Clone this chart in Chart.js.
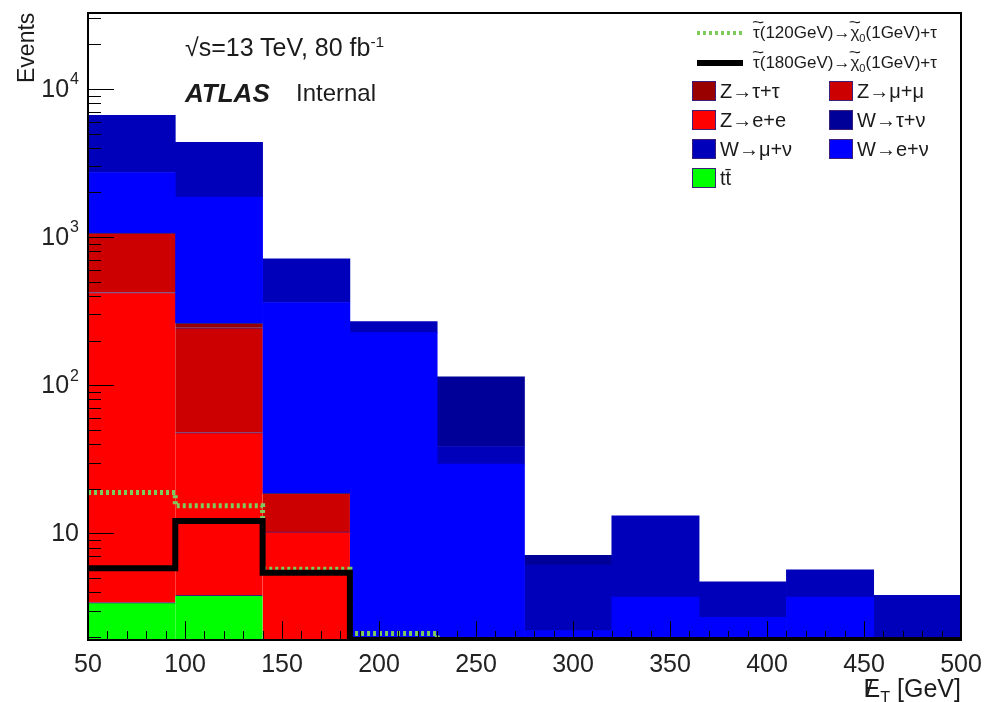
<!DOCTYPE html>
<html lang="en">
<head>
<meta charset="utf-8">
<title>Missing ET distribution</title>
<script src="https://cdn.jsdelivr.net/npm/chart.js@4.4.1/dist/chart.umd.min.js"></script>
<style>
  html, body { margin: 0; padding: 0; background: #fff; }
  #page { position: relative; width: 988px; height: 702px; overflow: hidden;
          font-family: "Liberation Sans", Arial, Helvetica, sans-serif; color: #1b1b1b; }
  #EtGraph { position: absolute; left: 0; top: 0; }
  .lbl { position: absolute; white-space: nowrap; line-height: 1; }
  #yTitle { left: 15px; top: 83px; font-size: 23px; transform-origin: left top; transform: rotate(-90deg); }
  #xTitle { right: 27px; top: 676px; font-size: 25px; }
  #energy { left: 185px; top: 35px; font-size: 25px; }
  #atlas { left: 185px; top: 80px; font-size: 26px; font-weight: bold; font-style: italic; }
  #internal { left: 296px; top: 81px; font-size: 24px; }
  sup { font-size: 62%; vertical-align: 0.6em; line-height: 0; }
  sub { font-size: 65%; vertical-align: -0.35em; line-height: 0; }
  .tl { position: relative; display: inline-block; }
  .tl::before { content: '~'; position: absolute; left: 0; right: 0; top: -0.6em;
                text-align: center; font-size: 0.95em; transform: scaleX(1.3); }
  .sl { position: relative; display: inline-block; }
  .sl::after { content: '/'; position: absolute; left: 0.12em; top: 0.02em; font-size: 0.95em; }
  .sw { position: absolute; width: 22px; height: 18px; border: 1.5px solid #3c1f78; }
  .line-sw { position: absolute; }
  .lt { position: absolute; line-height: 1; white-space: nowrap; }
</style>
</head>
<body>
<div id="page">
  <canvas id="EtGraph" width="988" height="702"></canvas>
  <div class="lbl" id="yTitle">Events</div>
  <div class="lbl" id="xTitle"><span class="sl">E</span><sub>T</sub> [GeV]</div>
  <div class="lbl" id="energy">&#x221A;s=13 TeV, 80 fb<sup>-1</sup></div>
  <div class="lbl" id="atlas">ATLAS</div>
  <div class="lbl" id="internal">Internal</div>
  <div id="legend"></div>
</div>
<script>
// bin edges of the missing ET histogram (GeV)
const binEdges = [50, 95, 140, 185, 230, 275, 320, 365, 410, 455, 500];

const xTickValues = [50, 100, 150, 200, 250, 300, 350, 400, 450, 500];
const yTickValues = [10, 100, 1000, 10000];
const yTickLabels = ['10', '10^2', '10^3', '10^4'];

// background yields per bin (events)
const ttbar   = [3.4, 3.8, 0, 0, 0, 0, 0, 0, 0, 0];
const zee     = [419, 44, 10.2, 0, 0, 0, 0, 0, 0, 0];
const zmumu   = [643, 196, 8.4, 0, 0, 0, 0, 0, 0, 0];
const ztautau = [0, 18, 0, 0, 0, 0, 0, 0, 0, 0];
const wenu    = [1665, 1600, 343, 226, 29.3, 2.2, 3.7, 2.7, 3.7, 0];
const wmunu   = [3900, 2500, 351, 43, 9.2, 3.9, 9.4, 2.0, 1.95, 3.8];
const wtaunu  = [0, 0, 0, 0, 75.5, 1.0, 0, 0, 0, 0];

// signal samples
const stau120 = [18.8, 15.3, 5.7, 2.1, 0, 0, 0, 0, 0, 0];
const stau180 = [5.8, 12.1, 5.4, 0, 0, 0, 0, 0, 0, 0];

const Y_MIN = 1.9;
const Y_MAX = 32600;

const binCenters = binEdges.slice(0, -1).map((e, i) => (e + binEdges[i + 1]) / 2);

function barPoints(values) {
  return values.map((v, i) => ({ x: binCenters[i], y: v })).filter(p => p.y > 0);
}

// step line: one point per bin edge, empty bins sit on the frame like ROOT does
function stepPoints(values) {
  return binEdges.map((x, i) => {
    const v = values[Math.min(i, values.length - 1)];
    return { x: x, y: v > 0 ? v : Y_MIN };
  });
}

// stack from bottom to top
const background = [
  { name: 'tt\u0304', values: ttbar,   color: '#00ff00', edge: true },
  { name: 'Z\u2192e+e', values: zee,     color: '#ff0000', edge: true },
  { name: 'Z\u2192\u03BC+\u03BC', values: zmumu, color: '#cc0000', edge: true },
  { name: 'Z\u2192\u03C4+\u03C4', values: ztautau, color: '#990000', edge: true },
  { name: 'W\u2192e+\u03BD', values: wenu,  color: '#0000ff', edge: false },
  { name: 'W\u2192\u03BC+\u03BD', values: wmunu, color: '#0000bb', edge: false },
  { name: 'W\u2192\u03C4+\u03BD', values: wtaunu, color: '#000099', edge: false }
];

const signals = [
  { name: '<span class="tl">\u03C4</span>(120GeV)\u2192<span class="tl">\u03C7</span><sub>0</sub>(1GeV)+\u03C4',
    values: stau120, color: '#7ccb5c', width: 5, dash: [3, 3] },
  { name: '<span class="tl">\u03C4</span>(180GeV)\u2192<span class="tl">\u03C7</span><sub>0</sub>(1GeV)+\u03C4',
    values: stau180, color: '#000000', width: 6, dash: [] }
];

const FONT = '"Liberation Sans", Arial, Helvetica, sans-serif';

// ROOT style frame, inner ticks and 10^n labels
const rootFrame = {
  id: 'rootFrame',
  afterDatasetsDraw(chart) {
    const { ctx, chartArea: a, scales: { x, y } } = chart;
    ctx.save();
    ctx.strokeStyle = '#000';
    ctx.lineWidth = 1;
    ctx.beginPath();
    for (let d = 0; d <= 4; d++) {
      for (let m = 1; m <= 9; m++) {
        const v = m * Math.pow(10, d);
        if (v < y.min || v > y.max) continue;
        const py = Math.round(y.getPixelForValue(v)) + 0.5;
        ctx.moveTo(a.left, py);
        ctx.lineTo(a.left + (m === 1 ? 26 : 13), py);
      }
    }
    for (let v = binEdges[0]; v <= binEdges[binEdges.length - 1]; v += 10) {
      const px = Math.round(x.getPixelForValue(v)) + 0.5;
      ctx.moveTo(px, a.bottom);
      ctx.lineTo(px, a.bottom - (v % 50 === 0 ? 19 : 9));
    }
    ctx.stroke();
    ctx.lineWidth = 2;
    ctx.strokeRect(a.left, a.top, a.right - a.left, a.bottom - a.top);

    ctx.fillStyle = '#222';
    ctx.textAlign = 'right';
    ctx.textBaseline = 'middle';
    yTickLabels.forEach((lab, i) => {
      const [base, exp] = lab.split('^');
      const py = y.getPixelForValue(yTickValues[i]);
      let right = a.left - 9;
      if (exp) {
        ctx.font = '16px ' + FONT;
        ctx.fillText(exp, right, py - 9);
        right -= ctx.measureText(exp).width + 1;
      }
      ctx.font = '25px ' + FONT;
      ctx.fillText(base, right, py + 1);
    });
    ctx.restore();
  }
};

const datasets = background.map(b => ({
  type: 'bar',
  label: b.name,
  data: barPoints(b.values),
  backgroundColor: b.color,
  borderColor: '#3c1f78',
  borderWidth: b.edge ? { top: 1, left: 0, right: 0, bottom: 0 } : 0,
  barPercentage: 1,
  categoryPercentage: 1,
  stack: 'bkg',
  order: 2
})).concat(signals.map((s, i) => ({
  type: 'line',
  label: s.name,
  data: stepPoints(s.values),
  stepped: 'before',
  borderColor: s.color,
  borderWidth: s.width,
  borderDash: s.dash,
  borderCapStyle: 'butt',
  pointRadius: 0,
  fill: false,
  stack: 'sig' + i,
  order: 1 - i
})));

new Chart(document.getElementById('EtGraph').getContext('2d'), {
  type: 'bar',
  data: { datasets: datasets },
  options: {
    responsive: false,
    animation: false,
    devicePixelRatio: 1,
    layout: { padding: { left: 0, right: 27, top: 13, bottom: 0 } },
    plugins: { legend: { display: false }, tooltip: { enabled: false } },
    scales: {
      x: {
        type: 'linear',
        min: binEdges[0],
        max: binEdges[binEdges.length - 1],
        offset: false,
        stacked: true,
        grid: { display: false, drawTicks: false },
        border: { display: false },
        afterBuildTicks: axis => { axis.ticks = xTickValues.map(v => ({ value: v })); },
        afterFit: axis => {
          axis.height = 62;
          axis.paddingLeft = 0;
          axis.paddingRight = 0;
        },
        ticks: {
          autoSkip: false,
          maxRotation: 0,
          padding: 10,
          color: '#222',
          font: { family: FONT, size: 25 }
        }
      },
      y: {
        type: 'logarithmic',
        min: Y_MIN,
        max: Y_MAX,
        stacked: true,
        grid: { display: false, drawTicks: false },
        border: { display: false },
        ticks: { display: false },
        afterFit: axis => {
          axis.width = 88;
          axis.paddingTop = 0;
          axis.paddingBottom = 0;
        }
      }
    }
  },
  plugins: [rootFrame]
});

// legend, laid out like the ROOT TLegend
const legend = document.getElementById('legend');
function addText(html, left, top, size) {
  const t = document.createElement('div');
  t.className = 'lt';
  t.style.left = left + 'px';
  t.style.top = top + 'px';
  t.style.fontSize = size + 'px';
  t.innerHTML = html;
  legend.appendChild(t);
}
signals.forEach((s, i) => {
  const cy = 33 + i * 30;
  const sw = document.createElement('div');
  sw.className = 'line-sw';
  sw.style.left = '697px';
  sw.style.width = '46px';
  sw.style.height = (s.dash.length ? 4 : 6) + 'px';
  sw.style.top = (cy - (s.dash.length ? 2 : 3)) + 'px';
  sw.style.background = s.dash.length
    ? 'repeating-linear-gradient(90deg, ' + s.color + ' 0 3px, transparent 3px 6px)'
    : s.color;
  legend.appendChild(sw);
  addText(s.name, 753, cy - 9, 17);
});
const legendOrder = [3, 2, 1, 6, 5, 4, 0];
legendOrder.forEach((k, n) => {
  const b = background[k];
  const col = n % 2, row = Math.floor(n / 2);
  const left = col ? 829 : 692;
  const cy = 91 + row * 29;
  const sw = document.createElement('div');
  sw.className = 'sw';
  sw.style.left = left + 'px';
  sw.style.top = (cy - 10) + 'px';
  sw.style.background = b.color;
  legend.appendChild(sw);
  addText(b.name, left + 28, cy - 10, 20);
});
</script>
</body>
</html>
